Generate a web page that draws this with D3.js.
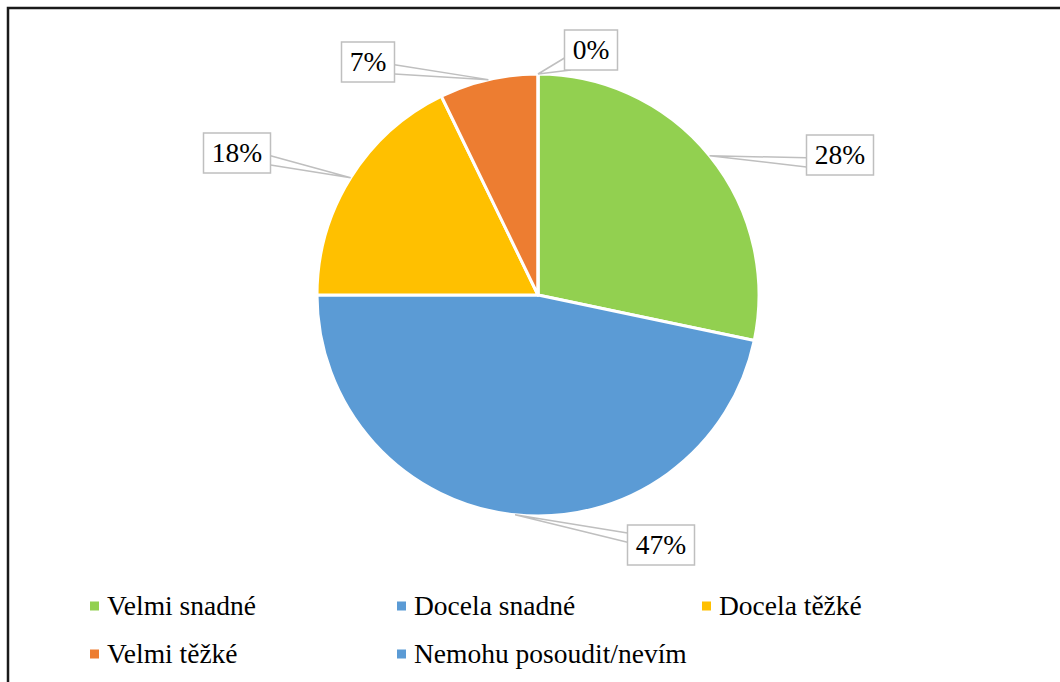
<!DOCTYPE html>
<html>
<head>
<meta charset="utf-8">
<script src="https://cdn.jsdelivr.net/npm/d3@7"></script>
<style>
body { margin: 0; background: #fff; }
</style>
</head>
<body>
<div id="chart"></div>
<script>
// answer categories and their share (%)
const categories = ['Velmi snadné', 'Docela snadné', 'Docela těžké', 'Velmi těžké', 'Nemohu posoudit/nevím'];
const values = [28.3, 46.7, 17.8, 7.2, 0];
const colors = ['#92D050', '#5B9BD5', '#FFC000', '#ED7D31', '#5B9BD5'];
const labels = ['28%', '47%', '18%', '7%', '0%'];

const width = 1060, height = 682;
const cx = 538, cy = 295, radius = 221;
const fontSize = 27.5;
const serif = "'Liberation Serif', 'Times New Roman', Times, Tinos, 'DejaVu Serif', serif";

const svg = d3.select('#chart')
    .append('svg')
    .attr('width', width)
    .attr('height', height);

// frame (only top and left visible)
svg.append('path')
    .attr('d', 'M8,682 L8,8 L1060,8')
    .style('fill', 'none')
    .style('stroke', '#1a1a1a')
    .style('stroke-width', 2.5);

const pie = d3.pie().sort(null).value(d => d);
const arcs = pie(values);
const arc = d3.arc().innerRadius(0).outerRadius(radius);

const g = svg.append('g').attr('transform', 'translate(' + cx + ',' + cy + ')');

g.selectAll('path.slice')
    .data(arcs)
    .enter()
    .append('path')
    .attr('class', 'slice')
    .attr('d', arc)
    .style('fill', (d, i) => colors[i])
    .style('stroke', '#fff')
    .style('stroke-width', 3)
    .style('stroke-linejoin', 'round');

// callout box offsets (box centre relative to pie centre) - Excel best fit placement
const boxCentres = [[302, -140], [123, 250], [-301, -142], [-170, -233], [53, -245]];

const callouts = svg.append('g');

arcs.forEach((a, i) => {
    const mid = (a.startAngle + a.endAngle) / 2;
    const ax = cx + radius * Math.sin(mid);
    const ay = cy - radius * Math.cos(mid);

    const tw = labels[i].length === 2 ? 36 : 50;
    const bw = tw + 17, bh = 40;
    const bx = cx + boxCentres[i][0] - bw / 2;
    const by = cy + boxCentres[i][1] - bh / 2;

    let p1, p2;
    if (ax < bx && ay > by + bh) {
        // anchor below-left of box: corner wedge
        p1 = [bx, by + bh * 0.7];
        p2 = [bx + bw * 0.12, by + bh];
    } else {
        const ex = ax < bx ? bx : bx + bw;
        const below = ay > by + bh / 2;
        p1 = [ex, by + bh * (below ? 0.57 : 0.2)];
        p2 = [ex, by + bh * (below ? 0.8 : 0.43)];
    }

    callouts.append('path')
        .attr('d', 'M' + p1[0] + ',' + p1[1] + ' L' + ax + ',' + ay + ' L' + p2[0] + ',' + p2[1])
        .style('fill', '#fff')
        .style('stroke', '#BFBFBF')
        .style('stroke-width', 1.5);

    callouts.append('rect')
        .attr('x', bx)
        .attr('y', by)
        .attr('width', bw)
        .attr('height', bh)
        .style('fill', '#fff')
        .style('stroke', '#BFBFBF')
        .style('stroke-width', 1.5);

    callouts.append('text')
        .attr('x', bx + bw / 2)
        .attr('y', by + bh / 2 + fontSize * 0.33)
        .style('text-anchor', 'middle')
        .style('font-family', serif)
        .style('font-size', fontSize + 'px')
        .style('fill', '#000')
        .text(labels[i]);
});

// legend: 3 columns, 2 rows
const legendX = [90, 397, 702];
const legendY = [606, 654];

const legend = svg.append('g');
categories.forEach((c, i) => {
    const x = legendX[i % 3], y = legendY[Math.floor(i / 3)];
    legend.append('rect')
        .attr('x', x)
        .attr('y', y - 4.5)
        .attr('width', 9)
        .attr('height', 9)
        .style('fill', colors[i]);
    legend.append('text')
        .attr('x', x + 17)
        .attr('y', y + 9)
        .style('font-family', serif)
        .style('font-size', fontSize + 'px')
        .style('fill', '#000')
        .text(c);
});
</script>
</body>
</html>
